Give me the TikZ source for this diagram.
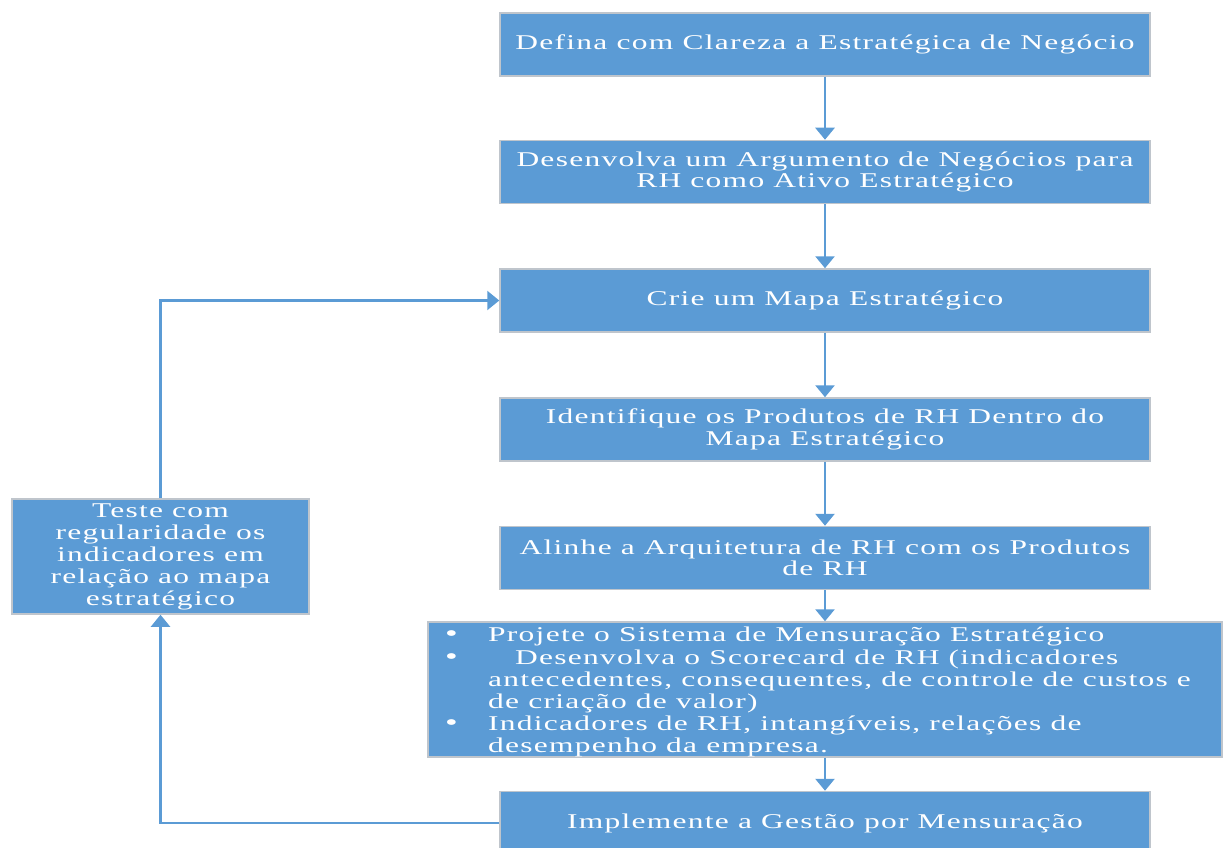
\documentclass[tikz,border=0pt]{standalone}
\usepackage{fontspec}
\usepackage{graphicx}
\setmainfont[FakeStretch=1.5,LetterSpace=6]{Liberation Serif}
\usetikzlibrary{arrows.meta}
\definecolor{boxblue}{HTML}{5B9BD5}
\definecolor{boxedge}{HTML}{BFC5CC}
\newcommand{\blt}{\llap{\makebox[43pt][l]{\smash{\scalebox{1.15}{\textbullet}}}}}
\tikzset{
  box/.style={draw=boxedge, line width=1.5pt, fill=boxblue, text=white, align=center,
    minimum width=650pt, minimum height=63pt, inner sep=0pt,
    font=\fontsize{21}{21.5}\selectfont},
  arr/.style={draw=boxblue, line width=2.8pt, -{Triangle[width=19pt,length=12pt]}},
  loop/.style={draw=boxblue, line width=2.2pt, -{Triangle[width=19pt,length=12pt]}}
}
\begin{document}
\begin{tikzpicture}[x=1pt,y=-1pt]
\useasboundingbox (0,0) rectangle (1223,848);
\node[box] (b1) at (825,44.5) {Defina com Clareza a Estratégica de Negócio};
\node[box] (b2) at (825,172) {Desenvolva um Argumento de Negócios para\\RH como Ativo Estratégico};
\node[box] (b3) at (825,300.5) {Crie um Mapa Estratégico};
\node[box] (b4) at (825,429.5) {Identifique os Produtos de RH Dentro do\\Mapa Estratégico};
\node[box] (b5) at (825,558) {Alinhe a Arquitetura de RH com os Produtos\\de RH};
\node[box, minimum width=794pt, minimum height=135pt, align=left] (b6) at (825,689.5) {};
\node[anchor=north west, text=white, align=left, inner sep=0pt,
  font=\fontsize{21}{22.2}\selectfont] (b6t) at (488,627)
 {\blt Projete o Sistema de Mensuração Estratégico\\
  \blt\hspace*{27pt}Desenvolva o Scorecard de RH (indicadores\\
  antecedentes, consequentes, de controle de custos e\\
  de criação de valor)\\
  \blt Indicadores de RH, intangíveis, relações de\\
  desempenho da empresa.};
\node[box] (b7) at (825,823) {Implemente a Gestão por Mensuração};
\node[box, minimum width=297pt, minimum height=115pt, font=\fontsize{21}{22}\selectfont] (lb) at (160.5,556.5)
 {Teste com\\regularidade os\\indicadores em\\relação ao mapa\\estratégico};
\draw[arr] (b1) -- (b2);
\draw[arr] (b2) -- (b3);
\draw[arr] (b3) -- (b4);
\draw[arr] (b4) -- (b5);
\draw[arr] (b5) -- (b6);
\draw[arr] (b6) -- (b7);
\draw[loop] (lb.north) |- (b3.west);
\draw[loop] (b7.west) -| (lb.south);
\end{tikzpicture}
\end{document}
